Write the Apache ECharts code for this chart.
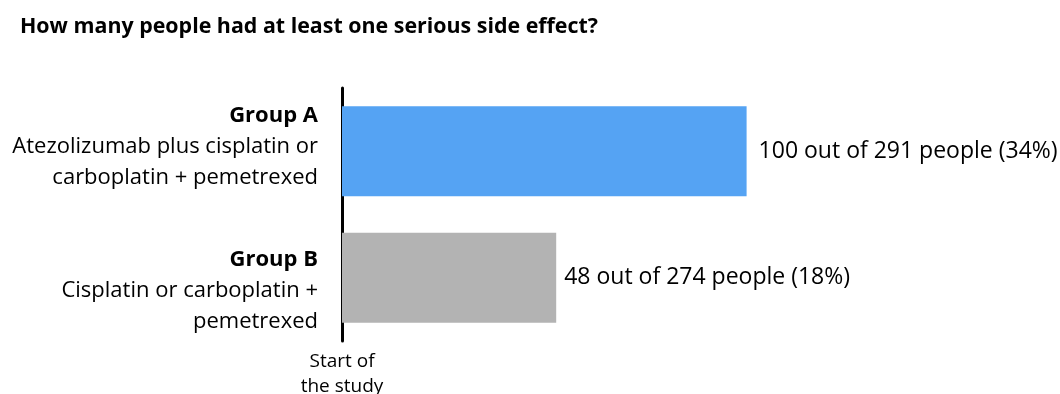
<!DOCTYPE html>
<html>
<head>
<meta charset="utf-8">
<script src="https://cdn.jsdelivr.net/npm/echarts@6/dist/echarts.min.js"></script>
<style>
  html, body { margin: 0; padding: 0; background: #fff; }
  #chart { width: 1060px; height: 394px; }
</style>
</head>
<body>
<div id="chart"></div>
<script>
// data
const groups = ["Group A", "Group B"];
const groupDesc = [
  ["Atezolizumab plus cisplatin or", "carboplatin + pemetrexed"],
  ["Cisplatin or carboplatin +", "pemetrexed"],
];
const people = [100, 48];
const totals = [291, 274];
const percents = [34, 18];
const barColors = ["#55a3f3", "#b3b3b3"];

const FONT = "Open Sans";

const chart = echarts.init(document.getElementById("chart"));

const option = {
  animation: false,
  textStyle: { fontFamily: FONT, color: "#000" },
  title: {
    text: "How many people had at least one serious side effect?",
    left: 15,
    top: 11,
    textStyle: { fontFamily: FONT, fontSize: 21.4, fontWeight: "bold", color: "#000" },
  },
  grid: { left: 342, top: 88, width: 476, height: 253, outerBoundsMode: "none" },
  xAxis: {
    type: "value",
    min: 0,
    max: 40,
    interval: 40,
    axisLine: { show: false },
    axisTick: { show: false },
    splitLine: { show: false },
    axisLabel: {
      margin: 8,
      fontSize: 19,
      lineHeight: 25,
      color: "#000",
      formatter: (v) => (v === 0 ? "Start of\nthe study" : ""),
    },
  },
  yAxis: {
    type: "category",
    inverse: true,
    data: groups.map((g, i) => ({
      value: g,
      textStyle: { padding: i === 0 ? [0, 0, 9, 0] : [25, 0, 0, 0] },
    })),
    axisLine: { show: true, lineStyle: { color: "#000", width: 3 } },
    axisTick: { show: false },
    axisLabel: {
      margin: 24,
      align: "right",
      formatter: (v, i) =>
        ["{h|" + v + "}"].concat(groupDesc[i].map((s) => "{t|" + s + "}")).join("\n"),
      rich: {
        h: { fontSize: 22, fontWeight: "bold", lineHeight: 31, color: "#000" },
        t: { fontSize: 22, lineHeight: 31, color: "#000" },
      },
    },
  },
  series: [
    {
      type: "bar",
      barWidth: 90,
      data: percents.map((p, i) => ({
        value: p,
        itemStyle: { color: barColors[i] },
        label: { distance: i === 0 ? 12 : 8 },
      })),
      label: {
        show: true,
        position: "right",
        fontSize: 23,
        color: "#000",
        formatter: (p) =>
          people[p.dataIndex] + " out of " + totals[p.dataIndex] + " people (" + percents[p.dataIndex] + "%)",
      },
    },
  ],
};

chart.setOption(option);
</script>
</body>
</html>
